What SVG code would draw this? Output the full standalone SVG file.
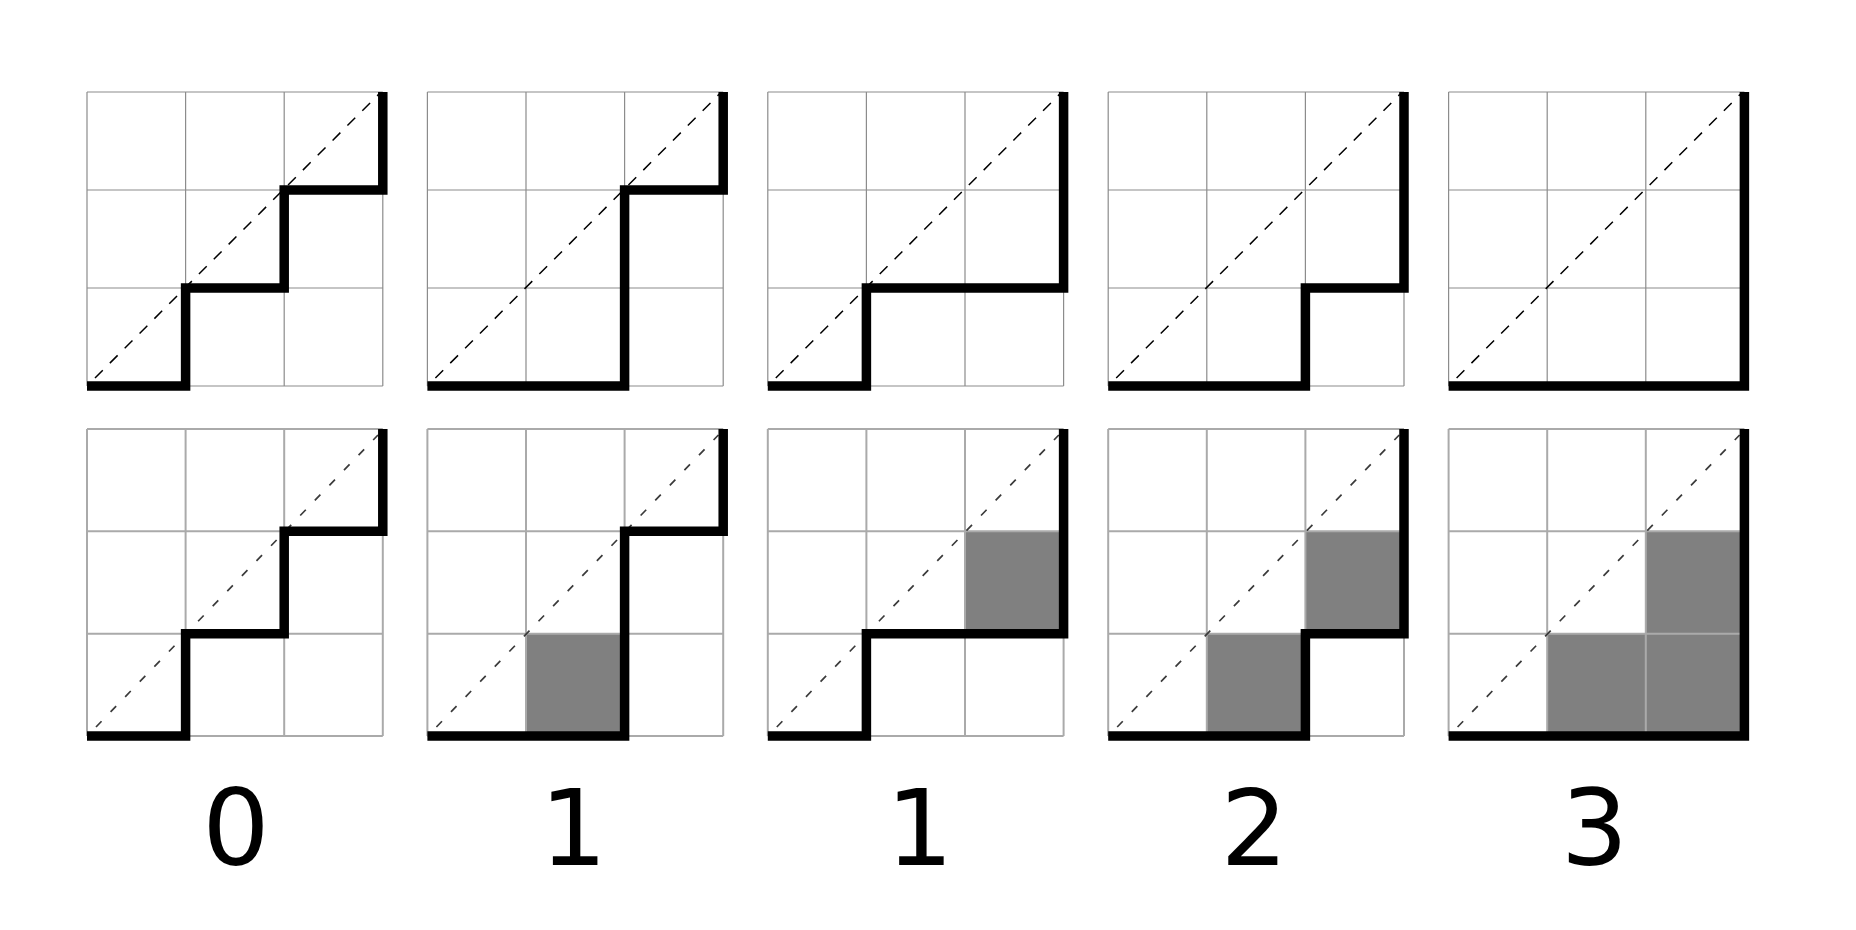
<svg xmlns="http://www.w3.org/2000/svg" xmlns:xlink="http://www.w3.org/1999/xlink" width="1856" height="930" viewBox="0 0 1856 930">
<style>
.gt{fill:none;stroke:#8c8c8c;stroke-width:1.2}
.gb{fill:none;stroke:#aaaaaa;stroke-width:2}
.dt{fill:none;stroke:#000;stroke-width:1.5;stroke-dasharray:11 10}
.db{fill:none;stroke:#3a3a3a;stroke-width:1.7;stroke-dasharray:8 13}
.pth{fill:none;stroke:#000;stroke-width:9.5;stroke-linejoin:miter;stroke-linecap:butt}
.sh{fill:#808080}
.lbl{font-family:"DejaVu Sans",sans-serif;font-size:106px;fill:#000;text-anchor:middle}
</style>
<defs>
<path id="gridTop" class="gt" d="M0,92H295.8M0,190H295.8M0,288H295.8M0,386H295.8M0,92V386M98.6,92V386M197.2,92V386M295.8,92V386"/>
<path id="gridBot" class="gb" d="M0,429H295.8M0,531.3H295.8M0,633.7H295.8M0,736H295.8M0,429V736M98.6,429V736M197.2,429V736M295.8,429V736"/>
<line id="diagTop" class="dt" x1="8" y1="378" x2="292" y2="94"/>
<line id="diagBot" class="db" x1="9" y1="727" x2="291" y2="435"/>
</defs>
<rect width="1856" height="930" fill="#fff"/>

<g id="panel1" transform="translate(87,0)">
<use href="#gridTop"/>
<use href="#diagTop"/>
<path class="pth" d="M0,386H98.6V288H197.2V190H295.8V92"/>
<use href="#gridBot"/>
<use href="#diagBot"/>
<path class="pth" d="M0,736H98.6V633.7H197.2V531.3H295.8V429"/>
<text class="lbl" x="149" y="865">0</text>
</g>

<g id="panel2" transform="translate(427.4,0)">
<use href="#gridTop"/>
<use href="#diagTop"/>
<path class="pth" d="M0,386H197.2V190H295.8V92"/>
<rect class="sh" x="98.6" y="633.7" width="98.6" height="102.3"/>
<use href="#gridBot"/>
<use href="#diagBot"/>
<path class="pth" d="M0,736H197.2V531.3H295.8V429"/>
<text class="lbl" x="146" y="865">1</text>
</g>

<g id="panel3" transform="translate(767.8,0)">
<use href="#gridTop"/>
<use href="#diagTop"/>
<path class="pth" d="M0,386H98.6V288H295.8V92"/>
<rect class="sh" x="197.2" y="531.3" width="98.6" height="102.4"/>
<use href="#gridBot"/>
<use href="#diagBot"/>
<path class="pth" d="M0,736H98.6V633.7H295.8V429"/>
<text class="lbl" x="152" y="865">1</text>
</g>

<g id="panel4" transform="translate(1108.2,0)">
<use href="#gridTop"/>
<use href="#diagTop"/>
<path class="pth" d="M0,386H197.2V288H295.8V92"/>
<rect class="sh" x="98.6" y="633.7" width="98.6" height="102.3"/>
<rect class="sh" x="197.2" y="531.3" width="98.6" height="102.4"/>
<use href="#gridBot"/>
<use href="#diagBot"/>
<path class="pth" d="M0,736H197.2V633.7H295.8V429"/>
<text class="lbl" x="146" y="865">2</text>
</g>

<g id="panel5" transform="translate(1448.6,0)">
<use href="#gridTop"/>
<use href="#diagTop"/>
<path class="pth" d="M0,386H295.8V92"/>
<rect class="sh" x="98.6" y="633.7" width="98.6" height="102.3"/>
<rect class="sh" x="197.2" y="633.7" width="98.6" height="102.3"/>
<rect class="sh" x="197.2" y="531.3" width="98.6" height="102.4"/>
<use href="#gridBot"/>
<use href="#diagBot"/>
<path class="pth" d="M0,736H295.8V429"/>
<text class="lbl" x="146" y="865">3</text>
</g>
</svg>
